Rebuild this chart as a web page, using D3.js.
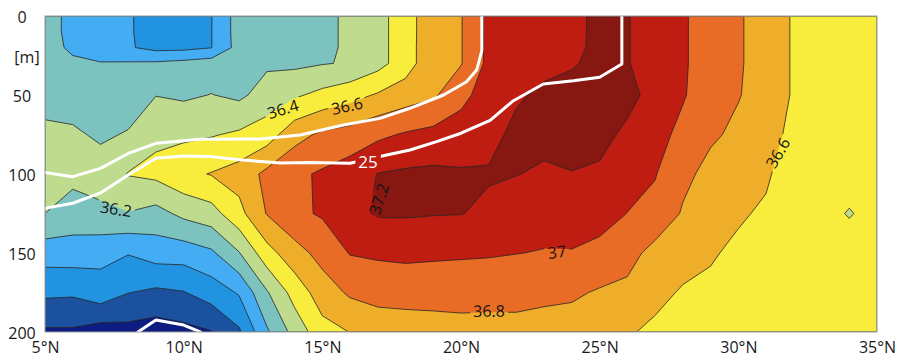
<!DOCTYPE html>
<html>
<head>
<meta charset="utf-8">
<script src="https://cdn.jsdelivr.net/npm/d3@7"></script>
<style>
  html, body { margin: 0; padding: 0; background: #fff; }
  svg { display: block; font-family: "Open Sans", "Noto Sans", sans-serif; }
</style>
</head>
<body>
<svg id="chart" width="897" height="359"></svg>
<script>
// Section grid: latitude (°N) by depth (m)
const latitudes = [5, 6, 7, 8, 9, 10, 11, 12, 13, 14, 15, 16, 17, 18, 19, 20,
                   21, 22, 23, 24, 25, 26, 27, 28, 29, 30, 31, 32, 33, 34, 35];
const depths = [0, 10, 20, 30, 50, 75, 100, 125, 150, 175, 200];

// Salinity, one row per depth level, one value per latitude
const salinity = [
  [36.10, 35.93, 35.88, 35.82, 35.72, 35.72, 35.795, 36.09, 36.14, 36.17, 36.18, 36.215, 36.33, 36.51, 36.735, 36.79, 37.05, 37.12, 37.15, 37.18, 37.218, 37.21, 37.11, 37.03, 36.88, 36.82, 36.72, 36.58, 36.55, 36.53, 36.52],
  [36.10, 35.93, 35.88, 35.82, 35.72, 35.72, 35.795, 36.09, 36.14, 36.17, 36.18, 36.215, 36.33, 36.51, 36.735, 36.79, 37.05, 37.12, 37.15, 37.18, 37.218, 37.21, 37.11, 37.03, 36.88, 36.82, 36.72, 36.58, 36.55, 36.53, 36.52],
  [36.11, 35.95, 35.90, 35.82, 35.743, 35.75, 35.795, 36.08, 36.14, 36.17, 36.18, 36.215, 36.33, 36.51, 36.74, 36.79, 37.05, 37.12, 37.15, 37.18, 37.22, 37.21, 37.11, 37.03, 36.88, 36.82, 36.72, 36.58, 36.55, 36.53, 36.52],
  [36.12, 36.05, 36.01, 36.02, 36.03, 36.06, 36.10, 36.12, 36.17, 36.16, 36.19, 36.215, 36.33, 36.51, 36.74, 36.79, 37.05, 37.13, 37.16, 37.19, 37.23, 37.21, 37.11, 37.03, 36.88, 36.82, 36.72, 36.58, 36.55, 36.53, 36.52],
  [36.15, 36.14, 36.10, 36.13, 36.195, 36.17, 36.205, 36.16, 36.285, 36.37, 36.455, 36.53, 36.62, 36.70, 36.77, 36.94, 37.10, 37.18, 37.23, 37.24, 37.25, 37.24, 37.153, 37.02, 36.87, 36.81, 36.72, 36.58, 36.53, 36.52, 36.51],
  [36.23, 36.22, 36.18, 36.21, 36.36, 36.36, 36.385, 36.43, 36.50, 36.73, 36.836, 36.88, 36.96, 37.02, 37.06, 37.10, 37.15, 37.24, 37.25, 37.26, 37.24, 37.173, 37.08, 36.94, 36.83, 36.76, 36.69, 36.54, 36.50, 36.49, 36.49],
  [36.30, 36.25, 36.26, 36.41, 36.45, 36.55, 36.61, 36.68, 36.85, 36.96, 37.025, 37.10, 37.205, 37.23, 37.24, 37.22, 37.215, 37.205, 37.175, 37.195, 37.18, 37.08, 37.01, 36.85, 36.74, 36.69, 36.63, 36.48, 36.47, 36.49, 36.47],
  [36.20, 36.12, 36.17, 36.19, 36.13, 36.25, 36.32, 36.54, 36.81, 36.96, 37.02, 37.15, 37.22, 37.22, 37.21, 37.205, 37.167, 37.094, 37.08, 37.09, 37.07, 36.997, 36.948, 36.78, 36.69, 36.625, 36.57, 36.47, 36.47, 36.386, 36.47],
  [35.89, 35.90, 35.855, 35.81, 35.89, 35.89, 35.965, 36.19, 36.525, 36.72, 36.87, 37.01, 37.03, 37.045, 37.035, 37.025, 37.018, 37.004, 36.99, 36.99, 36.95, 36.875, 36.73, 36.68, 36.62, 36.56, 36.53, 36.47, 36.46, 36.50, 36.47],
  [35.64, 35.63, 35.72, 35.605, 35.56, 35.59, 35.69, 35.82, 36.18, 36.48, 36.70, 36.83, 36.87, 36.875, 36.87, 36.876, 36.87, 36.86, 36.845, 36.83, 36.78, 36.75, 36.655, 36.58, 36.56, 36.52, 36.50, 36.46, 36.46, 36.46, 36.47],
  [35.37, 35.37, 35.30, 35.33, 35.30, 35.34, 35.39, 35.57, 35.97, 36.27, 36.53, 36.604, 36.68, 36.70, 36.72, 36.73, 36.73, 36.74, 36.72, 36.71, 36.68, 36.62, 36.56, 36.50, 36.50, 36.49, 36.48, 36.46, 36.46, 36.46, 36.47]
];

// Contour levels and the fill used above each one (first colour = below the lowest level)
const levels = [35.4, 35.6, 35.8, 36.0, 36.2, 36.4, 36.6, 36.8, 37.0, 37.2];
const bandColors = ["#0c1c80", "#1c519f", "#2193e0", "#43acf3", "#7cc2bf", "#bfdc8e",
                    "#f8ec3c", "#efae2a", "#e96c26", "#c01d12", "#861711"];

// Density isolines as [latitude, depth] pairs
const densityUpper = [[5, 99], [6, 101.7], [7, 96.4], [8, 87], [9, 80.6], [10.6, 78], [12.75, 77.8],
  [14.2, 75.3], [15.76, 69], [17.08, 64.8], [18.16, 58.4], [19.37, 50], [20.2, 41.6], [20.57, 34],
  [20.75, 22], [20.75, 0]];
const density25 = [[5, 121.7], [6, 118.5], [7, 112], [8, 100.6], [9, 90], [10, 88.6], [11, 89], [12, 91],
  [13.5, 93], [14.56, 92.8], [16, 93.2], [17.32, 88], [18.16, 84.8], [19.12, 79.5], [20, 74.2],
  [21.05, 66], [21.89, 53.6], [22.97, 43], [24.05, 41], [25, 38.8], [25.8, 30.4], [25.8, 0]];
const densityDeep = [[8.35, 200], [9, 192.4], [10, 195.6], [10.6, 200]];
const densityLines = [densityUpper, density25, densityDeep];

// Inline labels
const contourLabels = [
  { text: "36.4", lat: 13.58, depth: 58.9, angle: -17 },
  { text: "36.6", lat: 15.89, depth: 57.0, angle: -12 },
  { text: "36.2", lat: 7.56, depth: 122.2, angle: 9 },
  { text: "37.2", lat: 17.04, depth: 115.8, angle: -72 },
  { text: "37", lat: 23.46, depth: 149.4, angle: -7 },
  { text: "36.8", lat: 21.01, depth: 186.7, angle: -1 },
  { text: "36.6", lat: 31.43, depth: 86.7, angle: -60 }
];
const densityLabels = [{ text: "25", lat: 16.65, depth: 92.4, angle: 0 }];

// Axis ticks
const xTicks = [5, 10, 15, 20, 25, 30, 35];
const yTicks = [0, 50, 100, 150, 200];
const depthUnit = "[m]";

// ---- layout ----
const W = 897, H = 359;
const plot = { left: 45, top: 16, right: 877, bottom: 332 };

const svg = d3.select("#chart");
const x = d3.scaleLinear().domain([latitudes[0], latitudes[latitudes.length - 1]]).range([plot.left, plot.right]);
const y = d3.scaleLinear().domain([depths[0], depths[depths.length - 1]]).range([plot.top, plot.bottom]);

// Filled contours on the grid; grid cell centres sit at index + 0.5
const nx = latitudes.length, ny = depths.length;
const bands = d3.contours().size([nx, ny]).thresholds(levels)(salinity.flat());
const latAt = d3.scaleLinear().domain(d3.range(nx)).range(latitudes).clamp(true);
const depthAt = d3.scaleLinear().domain(d3.range(ny)).range(depths).clamp(true);
const toScreen = d3.geoTransform({
  point(gx, gy) { this.stream.point(x(latAt(gx - 0.5)), y(depthAt(gy - 0.5))); }
});
const path = d3.geoPath(toScreen);

const defs = svg.append("defs");
defs.append("clipPath").attr("id", "plot-clip")
  .append("rect")
  .attr("x", plot.left).attr("y", plot.top)
  .attr("width", plot.right - plot.left).attr("height", plot.bottom - plot.top);
defs.append("clipPath").attr("id", "line-clip")
  .append("rect")
  .attr("x", plot.left + 0.6).attr("y", plot.top + 0.6)
  .attr("width", plot.right - plot.left - 1.2).attr("height", plot.bottom - plot.top - 1.2);

const contourMask = defs.append("mask").attr("id", "contour-gaps")
  .attr("maskUnits", "userSpaceOnUse").attr("x", 0).attr("y", 0).attr("width", W).attr("height", H);
contourMask.append("rect").attr("width", W).attr("height", H).attr("fill", "#fff");
const densityMask = defs.append("mask").attr("id", "density-gaps")
  .attr("maskUnits", "userSpaceOnUse").attr("x", 0).attr("y", 0).attr("width", W).attr("height", H);
densityMask.append("rect").attr("width", W).attr("height", H).attr("fill", "#fff");

// Fills
const fills = svg.append("g").attr("clip-path", "url(#plot-clip)");
fills.append("rect")
  .attr("x", plot.left).attr("y", plot.top)
  .attr("width", plot.right - plot.left).attr("height", plot.bottom - plot.top)
  .attr("fill", bandColors[0]);
fills.selectAll("path").data(bands).join("path")
  .attr("d", path)
  .attr("fill", (d, i) => bandColors[i + 1]);

// Contour lines
svg.append("g").attr("clip-path", "url(#line-clip)")
  .append("g").attr("mask", "url(#contour-gaps)")
  .selectAll("path").data(bands).join("path")
  .attr("d", path)
  .attr("fill", "none")
  .attr("stroke", "#262626")
  .attr("stroke-width", 0.8)
  .attr("stroke-linejoin", "round");

// Density isolines
const line = d3.line().x(d => x(d[0])).y(d => y(d[1]));
svg.append("g").attr("clip-path", "url(#plot-clip)")
  .append("g").attr("mask", "url(#density-gaps)")
  .selectAll("path").data(densityLines).join("path")
  .attr("d", line)
  .attr("fill", "none")
  .attr("stroke", "#fff")
  .attr("stroke-width", 3)
  .attr("stroke-linejoin", "round")
  .attr("stroke-linecap", "round");

// Inline labels, with a gap cut into the line beneath each one
function placeLabels(data, color, size, mask) {
  const t = svg.append("g").selectAll("text").data(data).join("text")
    .attr("transform", d => `translate(${x(d.lat)},${y(d.depth)}) rotate(${d.angle})`)
    .attr("text-anchor", "middle")
    .attr("dy", "0.36em")
    .attr("font-size", size)
    .attr("fill", color)
    .text(d => d.text);
  t.each(function (d) {
    const w = this.getComputedTextLength() + 6;
    const h = size * 0.95;
    mask.append("rect")
      .attr("transform", `translate(${x(d.lat)},${y(d.depth)}) rotate(${d.angle})`)
      .attr("x", -w / 2).attr("y", -h / 2)
      .attr("width", w).attr("height", h)
      .attr("fill", "#000");
  });
}
placeLabels(contourLabels, "#141414", 16, contourMask);
placeLabels(densityLabels, "#ffffff", 17, densityMask);

// Frame
svg.append("rect")
  .attr("x", plot.left).attr("y", plot.top)
  .attr("width", plot.right - plot.left).attr("height", plot.bottom - plot.top)
  .attr("fill", "none").attr("stroke", "#9c9c9c").attr("stroke-width", 1);

// Axes
const xAxis = svg.append("g")
  .attr("transform", `translate(0,${plot.bottom})`)
  .call(d3.axisBottom(x).tickValues(xTicks).tickSize(0).tickPadding(10).tickFormat(d => d + "°N"));
xAxis.select(".domain").remove();
xAxis.selectAll("text").attr("font-size", 16).attr("fill", "#1a1a1a").attr("font-family", "Open Sans, sans-serif");

const yAxis = svg.append("g")
  .attr("transform", `translate(${plot.left},0)`)
  .call(d3.axisLeft(y).tickValues(yTicks).tickSize(0));
yAxis.select(".domain").remove();
yAxis.selectAll("text")
  .attr("x", -23).attr("dy", "0.42em").attr("text-anchor", "middle")
  .attr("font-size", 16).attr("fill", "#1a1a1a").attr("font-family", "Open Sans, sans-serif");

svg.append("text")
  .attr("x", plot.left - 18).attr("y", y(26))
  .attr("dy", "0.35em").attr("text-anchor", "middle")
  .attr("font-size", 16).attr("fill", "#1a1a1a")
  .text(depthUnit);
</script>
</body>
</html>
